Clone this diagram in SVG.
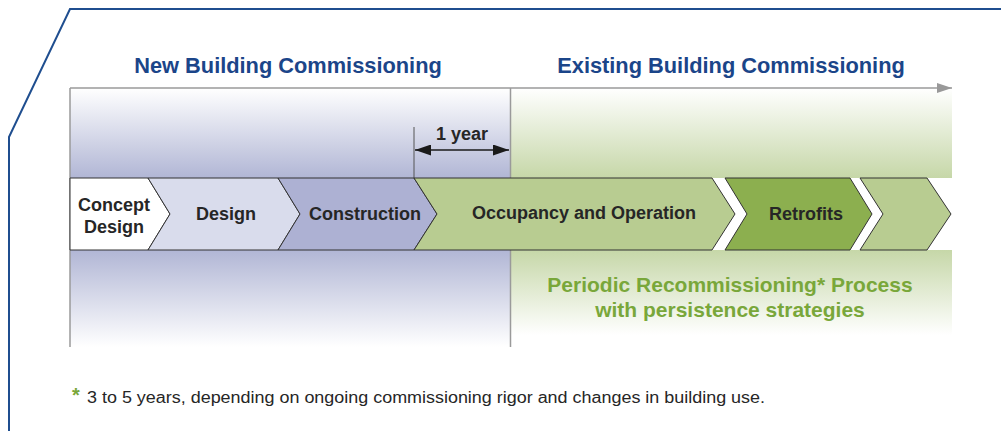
<svg xmlns="http://www.w3.org/2000/svg" width="1001" height="431" viewBox="0 0 1001 431">
  <defs>
    <linearGradient id="gLeftTop" x1="0" y1="0" x2="0" y2="1">
      <stop offset="0" stop-color="#ffffff"/>
      <stop offset="1" stop-color="#b1b6d5"/>
    </linearGradient>
    <linearGradient id="gLeftBot" x1="0" y1="0" x2="0" y2="1">
      <stop offset="0" stop-color="#b1b6d5"/>
      <stop offset="1" stop-color="#ffffff"/>
    </linearGradient>
    <linearGradient id="gRightTop" x1="0" y1="0" x2="0" y2="1">
      <stop offset="0" stop-color="#ffffff"/>
      <stop offset="1" stop-color="#c6d7a8"/>
    </linearGradient>
    <linearGradient id="gRightBot" x1="0" y1="0" x2="0" y2="1">
      <stop offset="0" stop-color="#c6d7a8"/>
      <stop offset="1" stop-color="#ffffff"/>
    </linearGradient>
    <marker id="arrGray" viewBox="0 0 15 10" refX="15" refY="5" markerWidth="15" markerHeight="10" markerUnits="userSpaceOnUse" orient="auto">
      <path d="M0,0 L15,5 L0,10 Z" fill="#999999"/>
    </marker>
    <marker id="arrBlack" viewBox="0 0 16 11" refX="16" refY="5.5" markerWidth="16" markerHeight="11" markerUnits="userSpaceOnUse" orient="auto-start-reverse">
      <path d="M0,0 L16,5.5 L0,11 Z" fill="#1a1a1a"/>
    </marker>
    <style>
      .chev { stroke: #333333; stroke-width: 1; stroke-linejoin: miter; }
      .lbl { font-family: "Liberation Sans", Arial, sans-serif; font-weight: bold; font-size: 18px; fill: #262626; text-anchor: middle; }
      .head { font-family: "Liberation Sans", Arial, sans-serif; font-weight: bold; font-size: 21.8px; fill: #1b4589; text-anchor: middle; }
      .green { font-family: "Liberation Sans", Arial, sans-serif; font-weight: bold; font-size: 21px; fill: #79a73a; text-anchor: middle; }
      .note { font-family: "Liberation Sans", Arial, sans-serif; font-size: 16px; fill: #262626; }
      .axis { stroke: #9a9a9a; stroke-width: 1.5; fill: none; }
    </style>
  </defs>

  <rect x="0" y="0" width="1001" height="431" fill="#ffffff"/>

  <!-- outer blue frame -->
  <path id="frame" d="M1001,9 L70,9 L9,137 L9,431" fill="none" stroke="#1f4e8f" stroke-width="2"/>

  <!-- background panels -->
  <g id="panels">
    <rect x="70" y="88" width="440" height="90" fill="url(#gLeftTop)"/>
    <rect x="70" y="250" width="440" height="97" fill="url(#gLeftBot)"/>
    <rect x="510" y="88" width="442" height="90" fill="url(#gRightTop)"/>
    <rect x="510" y="250" width="442" height="85" fill="url(#gRightBot)"/>
  </g>

  <!-- headings -->
  <g id="heading-new"><text class="head" x="288" y="73">New Building Commissioning</text></g>
  <g id="heading-existing"><text class="head" x="731" y="73">Existing Building Commissioning</text></g>

  <!-- connectors -->
  <g id="connectors">
    <line class="axis" x1="70" y1="88" x2="952" y2="88" marker-end="url(#arrGray)"/>
    <line class="axis" x1="70" y1="88" x2="70" y2="347"/>
    <line class="axis" x1="510.5" y1="88" x2="510.5" y2="347"/>
    <line x1="414" y1="127" x2="414" y2="178" stroke="#555555" stroke-width="1"/>
    <line x1="415" y1="150" x2="509" y2="150" stroke="#1a1a1a" stroke-width="1.5" marker-start="url(#arrBlack)" marker-end="url(#arrBlack)"/>
  </g>

  <g id="one-year"><text class="lbl" x="462" y="140" font-size="17">1 year</text></g>

  <!-- chevrons -->
  <g id="concept-design">
    <polygon class="chev" points="70,178 148,178 170,214 148,250 70,250" fill="#ffffff"/>
    <text class="lbl" x="114" y="211">Concept</text>
    <text class="lbl" x="114" y="233">Design</text>
  </g>
  <g id="design">
    <polygon class="chev" points="148,178 278,178 300,214 278,250 148,250 170,214" fill="#d9dcec"/>
    <text class="lbl" x="226" y="220">Design</text>
  </g>
  <g id="construction">
    <polygon class="chev" points="278,178 414,178 437,214 414,250 278,250 300,214" fill="#adb1d3"/>
    <text class="lbl" x="365" y="220">Construction</text>
  </g>
  <g id="occupancy">
    <polygon class="chev" points="414,178 712,178 735,214 712,250 414,250 437,214" fill="#b8cc91"/>
    <text class="lbl" x="584" y="219">Occupancy and Operation</text>
  </g>
  <g id="retrofits">
    <polygon class="chev" points="725,178 850,178 872,214 850,250 725,250 747,214" fill="#8caf4f"/>
    <text class="lbl" x="806" y="220">Retrofits</text>
  </g>
  <g id="next-phase">
    <polygon class="chev" points="860,178 927,178 951,214 927,250 860,250 883,214" fill="#b8cc91"/>
  </g>

  <!-- green process text -->
  <g id="process">
    <text class="green" x="730" y="292">Periodic Recommissioning* Process</text>
    <text class="green" x="730" y="317">with persistence strategies</text>
  </g>

  <!-- footnote -->
  <g id="footnote">
    <text x="72" y="402" font-family="Liberation Sans, Arial, sans-serif" font-weight="bold" font-size="20" fill="#79a73a">*</text>
    <text class="note" x="87" y="403" textLength="678" lengthAdjust="spacingAndGlyphs">3 to 5 years, depending on ongoing commissioning rigor and changes in building use.</text>
  </g>
</svg>
